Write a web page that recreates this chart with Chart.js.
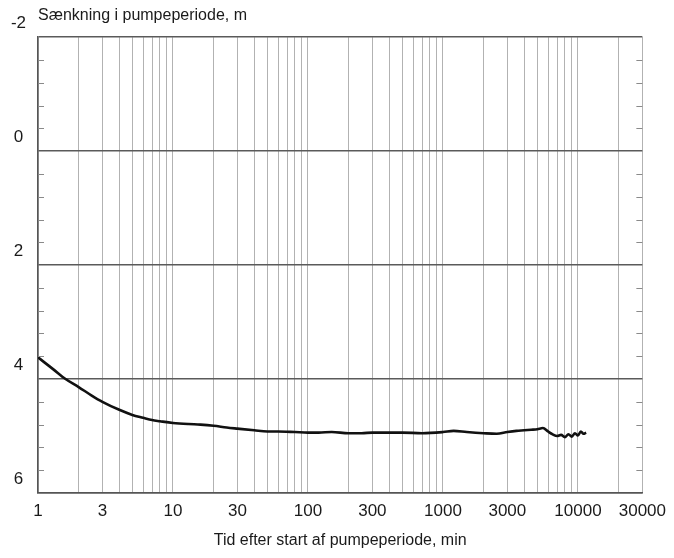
<!DOCTYPE html>
<html>
<head>
<meta charset="utf-8">
<script src="https://cdn.jsdelivr.net/npm/chart.js@4/dist/chart.umd.min.js"></script>
<style>
  html, body { margin: 0; padding: 0; background: #ffffff; }
  #wrap { width: 674px; height: 558px; }
</style>
</head>
<body>
<div id="wrap"><canvas id="c" width="674" height="558"></canvas></div>
<script>
// Time after pump start (min) and drawdown (m)
const timeMin = [1, 1.3, 1.6, 2, 2.5, 3, 4, 5, 6, 7, 8, 10, 13, 16, 20, 25, 30, 40, 50, 60, 80, 100, 120, 150, 200, 250, 300, 400, 500, 700, 1000, 1200, 1500, 2000, 2500, 3000, 3500, 4000, 4500, 5000, 5500, 6000, 6500, 7000, 7500, 8000, 8500, 9000, 9500, 10000, 10500, 11000, 11500];
const drawdown = [3.62, 3.83, 4.00, 4.14, 4.29, 4.40, 4.54, 4.63, 4.68, 4.72, 4.74, 4.77, 4.79, 4.80, 4.82, 4.85, 4.87, 4.90, 4.92, 4.92, 4.93, 4.94, 4.94, 4.93, 4.95, 4.95, 4.94, 4.94, 4.94, 4.95, 4.93, 4.91, 4.93, 4.95, 4.96, 4.93, 4.91, 4.90, 4.89, 4.88, 4.86, 4.92, 4.97, 5.00, 4.98, 5.02, 4.97, 5.01, 4.95, 4.99, 4.92, 4.96, 4.94];

// Axis ticks
const xGridValues = [1,2,3,4,5,6,7,8,9,10,20,30,40,50,60,70,80,90,100,200,300,400,500,600,700,800,900,1000,2000,3000,4000,5000,6000,7000,8000,9000,10000,20000,30000];
const xLabelValues = [1, 3, 10, 30, 100, 300, 1000, 3000, 10000, 30000];
const yTickValues = [-2, -1.6, -1.2, -0.8, -0.4, 0, 0.4, 0.8, 1.2, 1.6, 2, 2.4, 2.8, 3.2, 3.6, 4, 4.4, 4.8, 5.2, 5.6, 6];
const yMajorValues = [-2, 0, 2, 4, 6];

const yTitle = 'Sænkning i pumpeperiode, m';
const xTitle = 'Tid efter start af pumpeperiode, min';

const points = timeMin.map((t, i) => ({ x: t, y: drawdown[i] }));

const FONT = '"Liberation Sans", Arial, sans-serif';
const TXT = '#1a1a1a';

const minorTicks = {
  id: 'minorTicks',
  afterDatasetsDraw(chart) {
    const ctx = chart.ctx;
    const y = chart.scales.y;
    const a = chart.chartArea;
    ctx.save();
    ctx.strokeStyle = '#8a8a8a';
    ctx.lineWidth = 1;
    yTickValues.forEach(v => {
      if (yMajorValues.includes(v)) return;
      const py = Math.round(y.getPixelForValue(v)) + 0.5;
      ctx.beginPath();
      ctx.moveTo(a.left, py); ctx.lineTo(a.left + 6, py);
      ctx.moveTo(a.right - 6, py); ctx.lineTo(a.right, py);
      ctx.stroke();
    });
    ctx.restore();
  }
};

new Chart(document.getElementById('c'), {
  type: 'line',
  data: {
    datasets: [{
      data: points,
      borderColor: '#111111',
      borderWidth: 2.6,
      pointRadius: 0,
      cubicInterpolationMode: 'monotone',
      fill: false
    }]
  },
  options: {
    responsive: false,
    animation: false,
    layout: { padding: { left: 0, right: 30, top: 0, bottom: 0 } },
    plugins: {
      legend: { display: false },
      tooltip: { enabled: false },
      title: {
        display: true,
        text: yTitle,
        align: 'start',
        fullSize: false,
        color: TXT,
        font: { family: FONT, size: 16, weight: 'normal' },
        padding: { top: 6, bottom: 12 }
      }
    },
    scales: {
      x: {
        type: 'logarithmic',
        min: 1,
        max: 30000,
        afterBuildTicks(scale) {
          scale.ticks = xGridValues.map(v => ({ value: v, major: false }));
        },
        afterFit(scale) { scale.height = 65; },
        grid: {
          drawTicks: false,
          color: 'rgba(0,0,0,0.3)',
          lineWidth: 1
        },
        border: { display: true, color: '#555555', width: 1.5 },
        ticks: {
          autoSkip: false,
          maxRotation: 0,
          padding: 8,
          color: TXT,
          font: { family: FONT, size: 17 },
          callback(value) {
            return xLabelValues.includes(value) ? String(value) : '';
          }
        },
        title: {
          display: true,
          text: xTitle,
          color: TXT,
          font: { family: FONT, size: 16 },
          padding: { top: 8, bottom: 8 }
        }
      },
      y: {
        type: 'linear',
        reverse: true,
        min: -2,
        max: 6,
        afterBuildTicks(scale) {
          scale.ticks = yTickValues.map(v => ({ value: v }));
        },
        afterFit(scale) { scale.width = 38; },
        grid: {
          drawTicks: false,
          color(ctx) {
            const v = ctx.tick && ctx.tick.value;
            return yMajorValues.includes(v) ? '#5a5a5a' : 'rgba(0,0,0,0)';
          },
          lineWidth(ctx) {
            const v = ctx.tick && ctx.tick.value;
            return yMajorValues.includes(v) ? 1.5 : 0;
          }
        },
        border: { display: true, color: '#555555', width: 1.5 },
        ticks: {
          autoSkip: false,
          crossAlign: 'center',
          padding: 12,
          labelOffset: -14,
          color: TXT,
          font: { family: FONT, size: 17 },
          callback(value) {
            return yMajorValues.includes(value) ? String(value) : '';
          }
        }
      }
    }
  },
  plugins: [minorTicks]
});
</script>
</body>
</html>
